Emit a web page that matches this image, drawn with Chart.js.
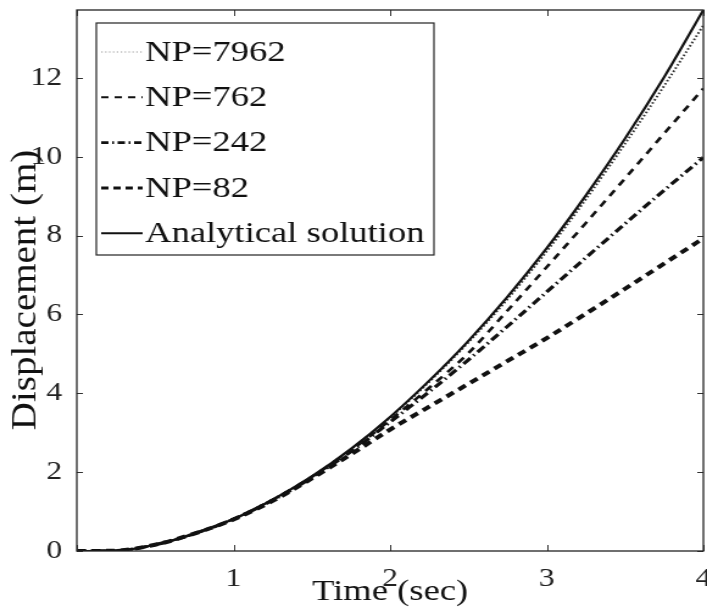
<!DOCTYPE html>
<html>
<head>
<meta charset="utf-8">
<script src="https://cdn.jsdelivr.net/npm/chart.js@4.4.0/dist/chart.umd.min.js"></script>
<style>
  html, body { margin: 0; padding: 0; background: #fff; overflow: hidden; }
  /* la figura original es mas estrecha y se estira a lo ancho */
  #wrap { width: 580px; height: 611px; transform: scaleX(1.219); transform-origin: 0 0; }
</style>
</head>
<body>
<div id="wrap"><canvas id="grafico" width="580" height="611"></canvas></div>
<script>
// tiempo (s) y desplazamientos (m) para cada discretizacion
const tiempo = [0, 0.25, 0.5, 0.75, 1, 1.25, 1.5, 1.75, 2, 2.25, 2.5, 2.75, 3, 3.25, 3.5, 3.75, 4];
const analitica = [0, 0.01, 0.16, 0.44, 0.81, 1.30, 1.89, 2.59, 3.40, 4.32, 5.33, 6.45, 7.68, 9.02, 10.46, 12.02, 13.72];
const np7962 = [0, 0.01, 0.16, 0.44, 0.81, 1.30, 1.89, 2.58, 3.38, 4.29, 5.29, 6.39, 7.60, 8.92, 10.33, 11.80, 13.33];
const np762 = [0, 0.01, 0.16, 0.44, 0.81, 1.30, 1.88, 2.55, 3.32, 4.14, 5.02, 6.10, 7.20, 8.32, 9.45, 10.59, 11.73];
const np242 = [0, 0.01, 0.16, 0.44, 0.81, 1.29, 1.86, 2.52, 3.27, 4.04, 4.85, 5.70, 6.57, 7.44, 8.30, 9.15, 9.98];
const np82 = [0, 0.01, 0.16, 0.44, 0.80, 1.27, 1.84, 2.45, 3.08, 3.66, 4.24, 4.82, 5.40, 6.02, 6.65, 7.29, 7.93];

const ticksX = [0, 1, 2, 3, 4];
const ticksY = [0, 2, 4, 6, 8, 10, 12];
const etiquetas = ['NP=7962', 'NP=762', 'NP=242', 'NP=82', 'Analytical solution'];
const tituloY = 'Displacement (m)';

const serif = '"Liberation Serif", "DejaVu Serif", serif';

function puntos(valores) {
  return tiempo.map((t, i) => ({ x: t, y: valores[i] }));
}

// caja, marcas hacia adentro, titulo vertical y leyenda estilo matlab
const marcoPlugin = {
  id: 'marco',
  afterDraw(chart) {
    const ctx = chart.ctx;
    const a = chart.chartArea;
    const sx = chart.scales.x, sy = chart.scales.y;
    ctx.save();
    ctx.strokeStyle = '#333';
    ctx.lineWidth = 1;
    ticksX.forEach(v => {
      const px = Math.round(sx.getPixelForValue(v)) + 0.5;
      ctx.beginPath();
      ctx.moveTo(px, a.bottom); ctx.lineTo(px, a.bottom - 6);
      ctx.moveTo(px, a.top); ctx.lineTo(px, a.top + 6);
      ctx.stroke();
    });
    ticksY.forEach(v => {
      const py = Math.round(sy.getPixelForValue(v)) + 0.5;
      ctx.beginPath();
      ctx.moveTo(a.left, py); ctx.lineTo(a.left + 5, py);
      ctx.moveTo(a.right, py); ctx.lineTo(a.right - 5, py);
      ctx.stroke();
    });
    ctx.lineWidth = 1.3;
    ctx.strokeStyle = '#222';
    ctx.strokeRect(a.left, a.top, a.right - a.left, a.bottom - a.top);

    // titulo del eje y
    ctx.save();
    ctx.translate(21, 290);
    ctx.rotate(-Math.PI / 2);
    ctx.scale(1.3, 1);
    ctx.font = '30px ' + serif;
    ctx.fillStyle = '#111';
    ctx.textAlign = 'center';
    ctx.textBaseline = 'middle';
    ctx.fillText(tituloY, 0, 0);
    ctx.restore();

    // leyenda
    const lx = 79, ly = 23, lw = 277, lh = 232;
    ctx.fillStyle = '#fff';
    ctx.fillRect(lx, ly, lw, lh);
    ctx.lineWidth = 1.2;
    ctx.strokeStyle = '#222';
    ctx.strokeRect(lx, ly, lw, lh);
    ctx.font = '30px ' + serif;
    ctx.textBaseline = 'middle';
    ctx.textAlign = 'left';
    chart.data.datasets.forEach((ds, i) => {
      const y = 52 + i * 45.3;
      ctx.save();
      ctx.strokeStyle = ds.legendColor || ds.borderColor;
      ctx.lineWidth = ds.legendWidth || ds.borderWidth;
      ctx.setLineDash(ds.legendDash || ds.borderDash || []);
      ctx.beginPath();
      ctx.moveTo(83, y);
      ctx.lineTo(117, y);
      ctx.stroke();
      ctx.restore();
      ctx.fillStyle = '#111';
      ctx.fillText(ds.label, 119, y + 1);
    });
    ctx.restore();
  }
};

const ctx = document.getElementById('grafico').getContext('2d');
window.grafico = new Chart(ctx, {
  type: 'line',
  data: {
    datasets: [
      { label: etiquetas[0], data: puntos(np7962), borderColor: '#333', borderWidth: 2, borderDash: [1.6, 2],
        legendColor: '#999', legendWidth: 1.2, legendDash: [1.2, 2], order: 2 },
      { label: etiquetas[1], data: puntos(np762), borderColor: '#111', borderWidth: 2.6, borderDash: [7, 6],
        legendWidth: 2, legendDash: [6, 5], order: 3 },
      { label: etiquetas[2], data: puntos(np242), borderColor: '#111', borderWidth: 3.2, borderDash: [8, 3.5, 1.5, 3.5],
        legendWidth: 2.6, legendDash: [6, 3, 1.5, 3], order: 4 },
      { label: etiquetas[3], data: puntos(np82), borderColor: '#111', borderWidth: 4, borderDash: [7, 5],
        legendWidth: 3, legendDash: [6, 4], order: 5 },
      { label: etiquetas[4], data: puntos(analitica), borderColor: '#111', borderWidth: 2.2, borderDash: [],
        legendWidth: 2, order: 1 }
    ]
  },
  options: {
    responsive: false,
    animation: false,
    maintainAspectRatio: false,
    layout: { padding: { top: 10, right: 3, left: 0, bottom: 0 } },
    elements: {
      point: { radius: 0 },
      line: { cubicInterpolationMode: 'monotone', fill: false }
    },
    plugins: {
      legend: { display: false },
      tooltip: { enabled: false }
    },
    scales: {
      x: {
        type: 'linear',
        min: 0,
        max: 4,
        grid: { display: false },
        border: { display: false },
        afterBuildTicks: s => { s.ticks = ticksX.map(v => ({ value: v })); },
        afterFit: s => { s.height = 60; s.paddingLeft = 0; s.paddingRight = 0; },
        ticks: {
          padding: 5,
          color: '#222',
          font: { family: serif, size: 26 },
          maxRotation: 0,
          callback: v => (v === 0 ? '' : String(v))
        },
        title: {
          display: true,
          text: 'Time (sec)',
          color: '#111',
          font: { family: serif, size: 30, lineHeight: 1 },
          padding: { top: 0, bottom: 4 }
        }
      },
      y: {
        min: 0,
        max: 13.72,
        grid: { display: false },
        border: { display: false },
        afterBuildTicks: s => { s.ticks = ticksY.map(v => ({ value: v })); },
        afterFit: s => { s.width = 63; s.paddingTop = 0; s.paddingBottom = 0; },
        ticks: {
          padding: 4,
          color: '#222',
          font: { family: serif, size: 26 }
        }
      }
    }
  },
  plugins: [marcoPlugin]
});
</script>
</body>
</html>
